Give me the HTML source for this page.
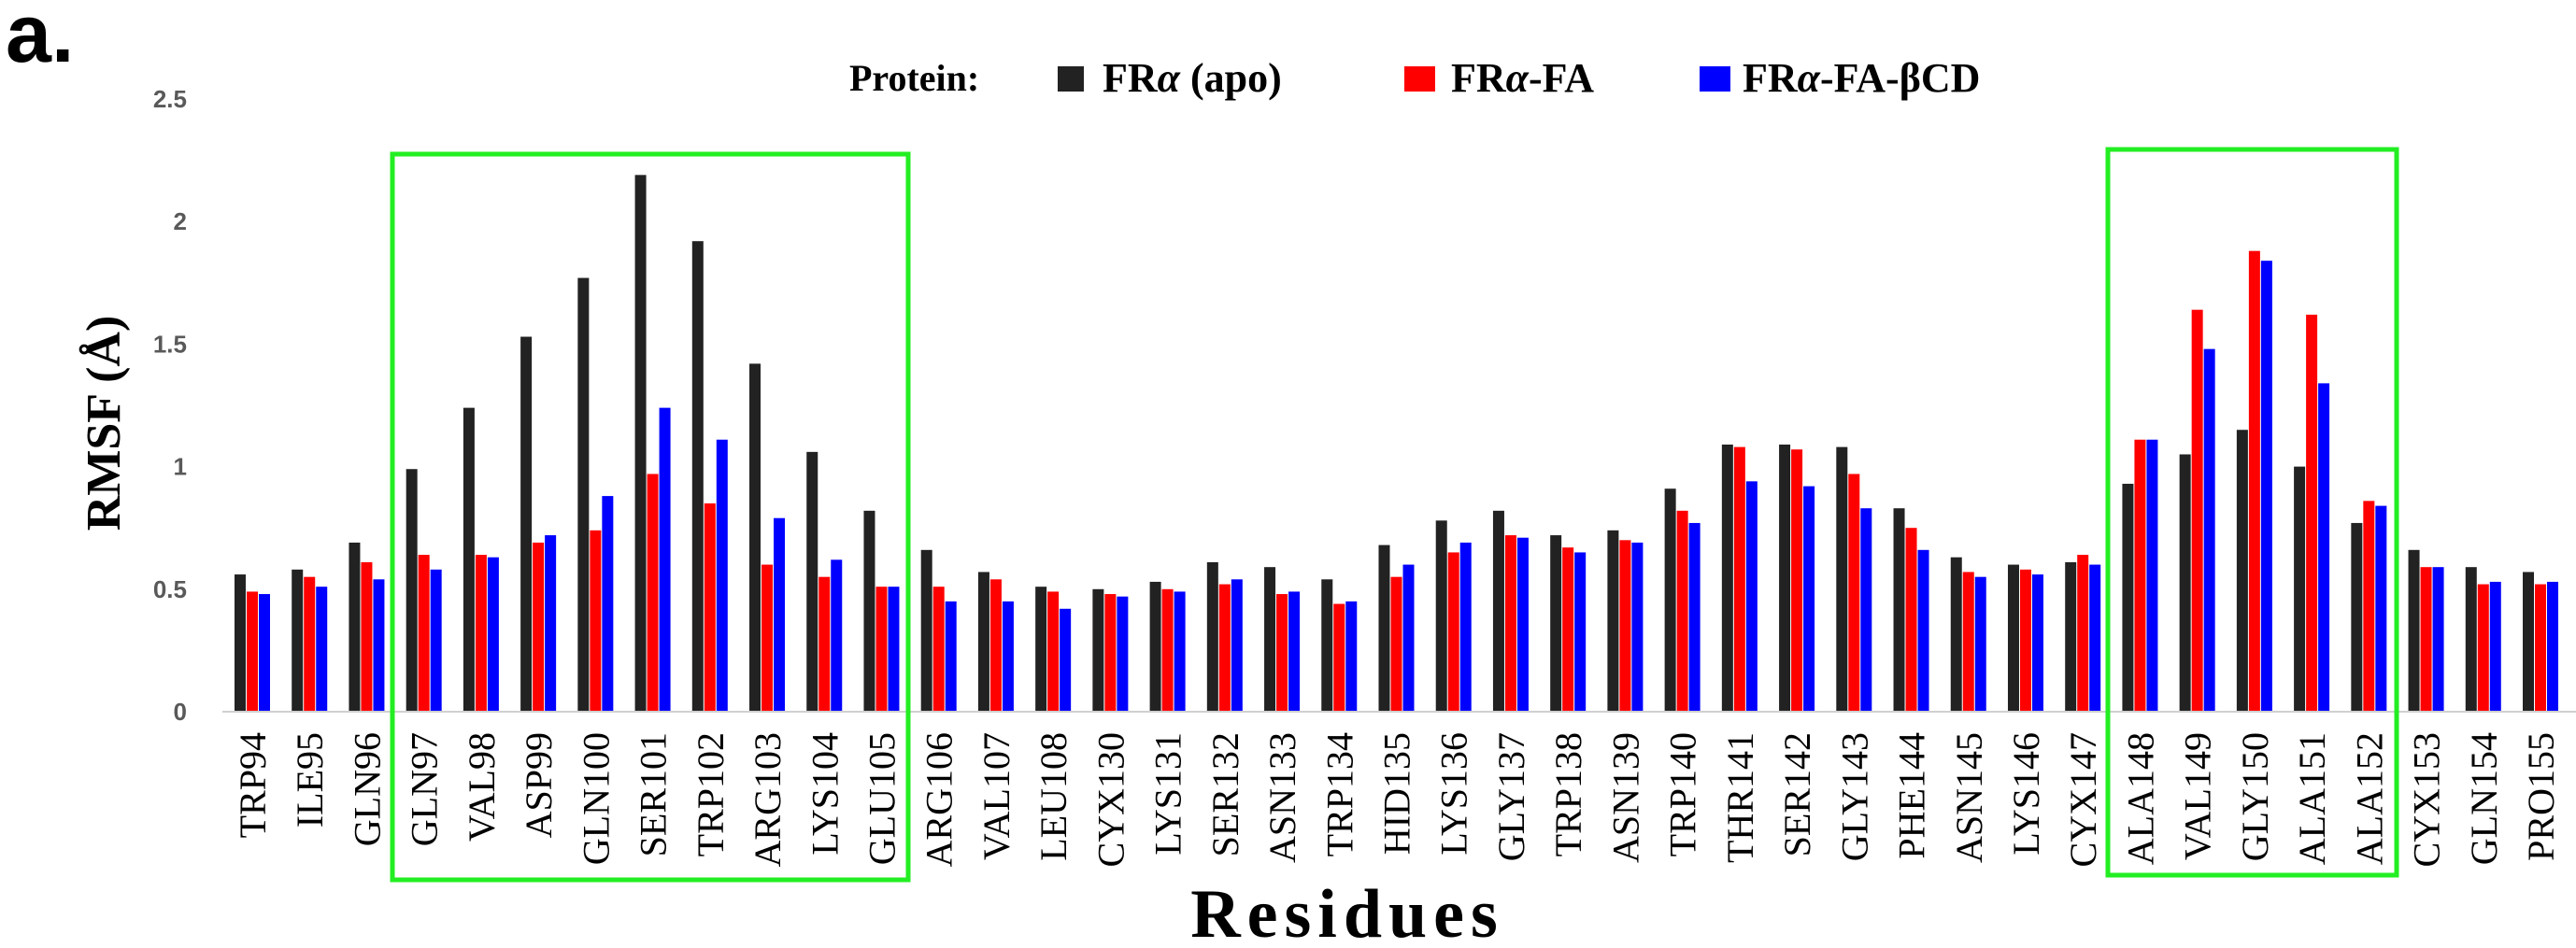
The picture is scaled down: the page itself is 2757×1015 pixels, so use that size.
<!DOCTYPE html>
<html><head><meta charset="utf-8"><style>
html,body{margin:0;padding:0;background:#fff;}
svg{display:block;}
.serif{font-family:"Liberation Serif",serif;}
.sans{font-family:"Liberation Sans",sans-serif;}
</style></head><body>
<svg id="chart" width="2757" height="1015" viewBox="0 0 2757 1015" xmlns="http://www.w3.org/2000/svg">
<text class="sans" x="6" y="66" font-weight="bold" font-size="88">a.</text>
<g class="serif" font-weight="bold">
<text x="909" y="97" font-size="40">Protein:</text>
<rect x="1132" y="71" width="28" height="27" fill="#222"/>
<text x="1180" y="98" font-size="44">FR<tspan font-style="italic">α</tspan> (apo)</text>
<rect x="1503" y="71" width="33" height="27" fill="#ff0000"/>
<text x="1553" y="98" font-size="44">FR<tspan font-style="italic">α</tspan>-FA</text>
<rect x="1819" y="71" width="33" height="27" fill="#0000ff"/>
<text x="1865" y="98" font-size="44">FR<tspan font-style="italic">α</tspan>-FA-βCD</text>
</g>
<text class="serif" transform="translate(128,453) rotate(-90)" text-anchor="middle" font-weight="bold" font-size="52">RMSF (Å)</text>
<text class="serif" x="1442" y="1003" text-anchor="middle" font-weight="bold" font-size="74" letter-spacing="7">Residues</text>
<g id="yticks"></g>
<g id="bars"></g>
<g id="xlabels"></g>
<line x1="238" y1="762" x2="2757" y2="762" stroke="#d0d0d0" stroke-width="2"/>
<rect x="420" y="165" width="552" height="777" fill="none" stroke="#22ee22" stroke-width="5"/>
<rect x="2256" y="160" width="309" height="777" fill="none" stroke="#22ee22" stroke-width="5"/>
</svg>
<script>
const categories=["TRP94","ILE95","GLN96","GLN97","VAL98","ASP99","GLN100","SER101","TRP102","ARG103","LYS104","GLU105","ARG106","VAL107","LEU108","CYX130","LYS131","SER132","ASN133","TRP134","HID135","LYS136","GLY137","TRP138","ASN139","TRP140","THR141","SER142","GLY143","PHE144","ASN145","LYS146","CYX147","ALA148","VAL149","GLY150","ALA151","ALA152","CYX153","GLN154","PRO155"];
const apo=[.56,.58,.69,.99,1.24,1.53,1.77,2.19,1.92,1.42,1.06,.82,.66,.57,.51,.50,.53,.61,.59,.54,.68,.78,.82,.72,.74,.91,1.09,1.09,1.08,.83,.63,.60,.61,.93,1.05,1.15,1.00,.77,.66,.59,.57];
const fa=[.49,.55,.61,.64,.64,.69,.74,.97,.85,.60,.55,.51,.51,.54,.49,.48,.50,.52,.48,.44,.55,.65,.72,.67,.70,.82,1.08,1.07,.97,.75,.57,.58,.64,1.11,1.64,1.88,1.62,.86,.59,.52,.52];
const faBcd=[.48,.51,.54,.58,.63,.72,.88,1.24,1.11,.79,.62,.51,.45,.45,.42,.47,.49,.54,.49,.45,.60,.69,.71,.65,.69,.77,.94,.92,.83,.66,.55,.56,.60,1.11,1.48,1.84,1.34,.84,.59,.53,.53];
const yTicks=["0","0.5","1","1.5","2","2.5"];
const NS="http://www.w3.org/2000/svg";
const y=v=>762-v*262.4;
const x=i=>270+i*((2719-270)/(categories.length-1));
const series=[[apo,"#222222","apo"],[fa,"#ff0000","fa"],[faBcd,"#0000ff","fa-bcd"]];
const bars=document.getElementById("bars");
categories.forEach((c,i)=>{
  series.forEach((s,k)=>{
    const r=document.createElementNS(NS,"rect");
    
    
    r.setAttribute("x",x(i)-19+k*13);r.setAttribute("width",12);
    r.setAttribute("y",y(s[0][i]));r.setAttribute("height",762-y(s[0][i]));
    r.setAttribute("fill",s[1]);bars.appendChild(r);
  });
  const t=document.createElementNS(NS,"text");
  
  
  t.setAttribute("class","serif");
  t.setAttribute("transform","translate("+(x(i)+14)+",784) rotate(-90)");
  t.setAttribute("text-anchor","end");
  t.setAttribute("font-size","40");
  t.textContent=c;document.getElementById("xlabels").appendChild(t);
});
yTicks.forEach(v=>{
  const t=document.createElementNS(NS,"text");
  
  
  t.setAttribute("class","sans");
  t.setAttribute("x",200);t.setAttribute("y",y(parseFloat(v))+9);
  t.setAttribute("text-anchor","end");
  t.setAttribute("font-weight","bold");t.setAttribute("font-size","26");
  t.setAttribute("fill","#595959");
  t.textContent=v;document.getElementById("yticks").appendChild(t);
});
</script>
</body></html>
